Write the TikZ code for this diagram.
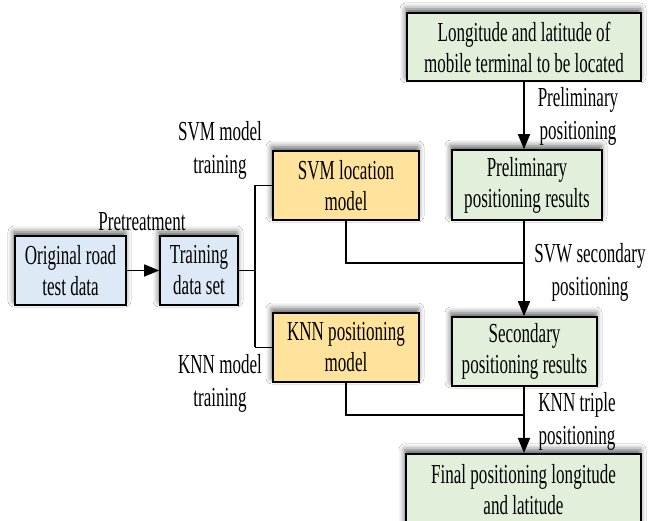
\documentclass[tikz,border=0pt]{standalone}
\usepackage{fontspec}
\setmainfont{Liberation Serif}[FakeStretch=0.62]
\usetikzlibrary{arrows.meta,shadows.blur}
\definecolor{boxblue}{RGB}{221,233,246}
\definecolor{boxyellow}{RGB}{255,226,155}
\definecolor{boxgreen}{RGB}{226,239,218}
\tikzset{
  box/.style={draw=black, line width=1.6pt, inner sep=0pt, align=center,
    font=\fontsize{27.5}{31}\selectfont,
    blur shadow={shadow xshift=-1pt, shadow yshift=4pt, shadow blur radius=6pt, shadow opacity=65}},
  bluebox/.style={box, fill=boxblue},
  yellowbox/.style={box, fill=boxyellow},
  greenbox/.style={box, fill=boxgreen},
  lbl/.style={align=center, inner sep=0pt, font=\fontsize{27.5}{33}\selectfont},
  link/.style={line width=1.6pt, draw=black},
  arrow/.style={link, -{Triangle[length=15pt,width=12pt]}}
}
\begin{document}
\begin{tikzpicture}[x=1pt, y=-1pt]
\useasboundingbox (0,0) rectangle (649,521);
\fill[white] (0,0) rectangle (649,521);

% input side
\node[bluebox, minimum width=111pt, minimum height=69pt] (orig) at (70.5,270.5) {Original road\\test data};
\node[bluebox, minimum width=78pt, minimum height=69pt] (train) at (199,270.5) {Training\\data set};
\node[yellowbox, minimum width=146pt, minimum height=69pt] (svm) at (346,185.5) {SVM location\\model};
\node[yellowbox, minimum width=146pt, minimum height=69pt] (knn) at (346,347.5) {KNN positioning\\model};

% positioning chain
\node[greenbox, minimum width=234pt, minimum height=68pt] (lonlat) at (524,47) {Longitude and latitude of\\mobile terminal to be located};
\node[greenbox, minimum width=150pt, minimum height=70pt] (prelim) at (527,185) {Preliminary\\positioning results};
\node[greenbox, minimum width=145pt, minimum height=69pt] (second) at (524.5,351.5) {Secondary\\positioning results};
\node[greenbox, minimum width=235pt, minimum height=72pt, anchor=north] (final) at (523.5,453) {Final positioning longitude\\and latitude};

% connectors
\coordinate (fork) at (255,270.5);
\coordinate (svmjoin) at (524,263);
\coordinate (knnjoin) at (524,415);

\draw[arrow] (orig.east) -- (train.west);
\draw[link] (train.east) -- (fork);
\draw[link] (fork |- svm.west) -- (fork |- knn.west);
\draw[link] (fork |- svm.west) -- (svm.west);
\draw[link] (fork |- knn.west) -- (knn.west);

\draw[arrow] (svmjoin |- lonlat.south) -- (svmjoin |- prelim.north);
\draw[link] (svm.south) |- (svmjoin);
\draw[arrow] (svmjoin |- prelim.south) -- (svmjoin |- second.north);
\draw[link] (knn.south) |- (knnjoin);
\draw[arrow] (knnjoin |- second.south) -- (knnjoin |- final.north);

% labels
\node[lbl] (lpre) at (142,222) {Pretreatment};
\node[lbl] (lsvm) at (220,150) {SVM model\\training};
\node[lbl] (lknn) at (220,383) {KNN model\\training};
\node[lbl] (lprel) at (578,116) {Preliminary\\positioning};
\node[lbl] (lsec) at (590,272) {SVW secondary\\positioning};
\node[lbl] (ltri) at (577,421) {KNN triple\\positioning};
\end{tikzpicture}
\end{document}
